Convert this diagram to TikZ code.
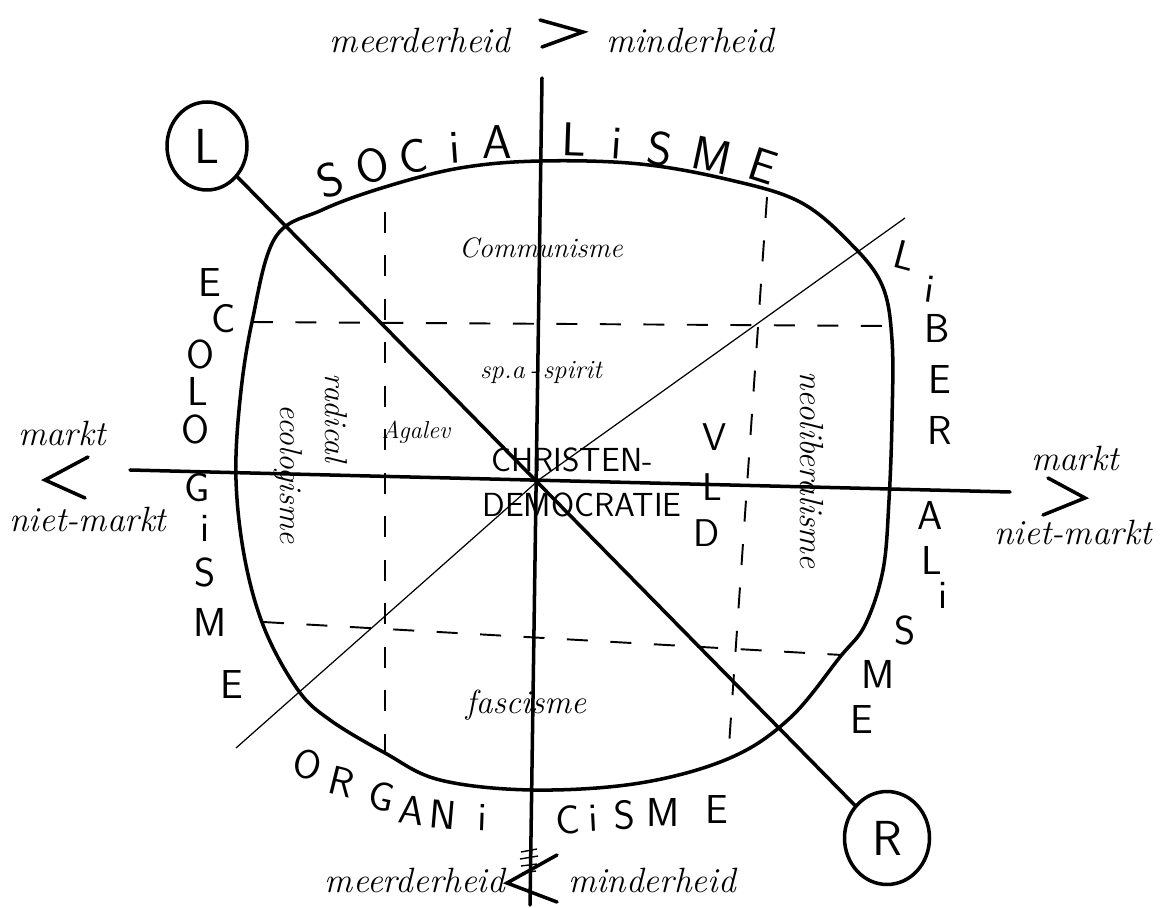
\documentclass[tikz,border=0pt]{standalone}
\usepackage{fontspec}
\usetikzlibrary{shapes.geometric}

\tikzset{
  axis/.style={line width=2pt, line cap=round},
  thinline/.style={line width=0.7pt},
  gridline/.style={line width=1.1pt, dash pattern=on 0.42cm off 0.45cm},
  hand/.style={font=\itshape\fontsize{20}{22}\selectfont, inner sep=0pt},
  ring/.style={font=\sffamily\fontsize{23}{23}\selectfont, inner sep=0pt},
  pole/.style={ellipse, draw, line width=2pt, minimum width=1.6cm, minimum height=1.76cm, inner sep=0pt, font=\sffamily\fontsize{28}{28}\selectfont}
}

\begin{document}
\begin{tikzpicture}[x=0.02cm, y=-0.02cm]
    \useasboundingbox (0,0) rectangle (1163,908);

    % Define nodes
    \coordinate (c) at (540,479);
    \coordinate (top) at (542,78);
    \coordinate (bot) at (530,905);
    \coordinate (west) at (130,470);
    \coordinate (east) at (1010,492);
    \coordinate (ne) at (905,218);
    \coordinate (sw) at (236,748);
    \node[pole] (L) at (207,146) {L};
    \node[pole, minimum width=1.7cm, minimum height=1.86cm] (R) at (887,838) {R};

    % Draw the round field
    \draw[axis] plot[smooth cycle, tension=0.6] coordinates {
      (540,161) (640,164) (730,180) (800,202) (850,243) (882,285) (892,340)
      (892,420) (889,500) (883,570) (865,625) (840,657) (790,718) (730,758)
      (640,783) (533,790) (440,780) (385,753) (330,720) (298,690) (265,630)
      (245,560) (236,480) (240,400) (252,322) (275,238) (322,210) (385,187)
      (460,168)};

    % Draw dashed lines
    \draw[gridline] (252,322) -- (890,326);
    \draw[gridline] (263,622) -- (842,655);
    \draw[gridline] (385,212) -- (385,752);
    \draw[gridline] (767,197) -- (728,760);

    % Draw solid lines
    \draw[axis] (top) -- (bot);
    \draw[axis] (west) -- (east);
    \draw[axis] (L) -- (R);
    \draw[thinline] (ne) -- (c) -- (sw);

    % Letters round the field
    \foreach \ch/\x/\y/\r [count=\i] in {S/330/180/18, O/372/166/14, C/413/156/8,
        i/455/148/4, A/497/142/0, L/574/139/-2, i/617/144/-4, S/660/149/-8,
        M/712/155/-12, E/763/166/-18}
      \node[ring, font=\sffamily\fontsize{27}{27}\selectfont, rotate=\r] (soc\i) at (\x,\y) {\ch};
    \foreach \ch/\x/\y/\r [count=\i] in {L/905/256/-15, i/930/289/-8, B/937/328/0,
        E/940/380/0, R/940/430/0, A/930/515/0, L/932/560/0, i/943/595/0,
        S/905/630/0, M/878/674/0, E/862/720/0}
      \node[ring, rotate=\r] (lib\i) at (\x,\y) {\ch};
    \foreach \ch/\x/\y [count=\i] in {E/210/283, C/224/319, O/200/354, L/198/391,
        O/195/429, G/197/488, i/205/528, S/205/572, M/210/622, E/232/685}
      \node[ring] (eco\i) at (\x,\y) {\ch};
    \foreach \ch/\x/\y/\r [count=\i] in {O/308/765/-15, R/342/782/-14, G/382/797/-12,
        A/412/810/-8, N/443/815/-5, i/482/818/-2, C/568/820/3, i/593/818/3,
        S/625/815/2, M/663/812/0, E/717/810/0}
      \node[ring, rotate=\r] (org\i) at (\x,\y) {\ch};

    % Labels inside the field
    \node[hand, font=\itshape\fontsize{16}{18}\selectfont] (comm) at (541,248) {Communisme};
    \node[hand, font=\itshape\fontsize{15}{18}\selectfont] (spa) at (541,372) {sp.a\,-\,spirit};
    \node[hand, font=\itshape\fontsize{14}{16}\selectfont] (agalev) at (416,432) {Agalev};
    \node[hand, font=\itshape\fontsize{18}{20}\selectfont, rotate=-90] (radi) at (336,418) {radical};
    \node[hand, font=\itshape\fontsize{18}{20}\selectfont, rotate=-90] (ecol) at (288,474) {ecologisme};
    \node[hand, font=\itshape\fontsize{19}{20}\selectfont, rotate=-90] (neol) at (812,470) {neoliberalisme};
    \node[hand, font=\itshape\fontsize{19}{20}\selectfont] (fasc) at (526,705) {fascisme};
    \node[ring, font=\sffamily\fontsize{19}{20}\selectfont] (chr) at (572,460) {CHRISTEN-};
    \node[ring, font=\sffamily\fontsize{19}{20}\selectfont] (dem) at (582,505) {DEMOCRATIE};
    \node[ring, font=\sffamily\fontsize{22}{22}\selectfont] (vldV) at (715,437) {V};
    \node[ring, font=\sffamily\fontsize{22}{22}\selectfont] (vldL) at (712,487) {L};
    \node[ring, font=\sffamily\fontsize{22}{22}\selectfont] (vldD) at (707,533) {D};

    % Labels at the ends of the axes
    \node[hand] (meerT) at (420,40) {meerderheid};
    \node[hand] (minT) at (690,40) {minderheid};
    \node[hand] (meerB) at (415,880) {meerderheid};
    \node[hand] (minB) at (652,880) {minderheid};
    \node[hand] (marktW) at (62,433) {markt};
    \node[hand] (nietW) at (88,519) {niet-markt};
    \node[hand] (marktE) at (1075,458) {markt};
    \node[hand] (nietE) at (1073,532) {niet-markt};

    % Comparison marks
    \draw[axis] (540,20) -- (583,32) -- (542,47);
    \draw[axis] (557,855) -- (507,883) -- (557,902);
    \draw[thick] (521,852) -- (537,849);
    \draw[thick] (520,859) -- (538,856);
    \draw[thick] (521,866) -- (537,864);
    \draw[thick] (522,873) -- (536,871);
    \draw[axis] (88,457) -- (45,480) -- (85,498);
    \draw[axis] (1048,478) -- (1085,498) -- (1043,515);
\end{tikzpicture}
\end{document}
